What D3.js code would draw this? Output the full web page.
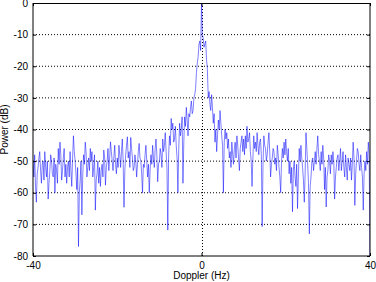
<!DOCTYPE html>
<html>
<head>
<meta charset="utf-8">
<script src="https://cdn.jsdelivr.net/npm/d3@7"></script>
<style>
  body { margin: 0; background: #fff; }
  svg { display: block; font-family: "Liberation Sans", Arial, sans-serif; }
</style>
</head>
<body>
<div id="chart"></div>
<script>
// doppler axis: samples every 0.2 Hz from -40 to 40
const freqStart = -40;
const freqStep = 0.2;
const power = [
  -50, -55, -48, -58, -63, -54, -52, -49, -47, -53, -57, -51, -50, -56, -47, -52, -55, -50, -62, -57,
  -53, -48, -50, -54, -55, -49, -60, -51, -53, -57, -46, -51, -44, -48, -56, -53, -49, -46, -55, -51,
  -57, -52, -50, -55, -47, -53, -58, -49, -42, -47, -50, -54, -59, -52, -77, -60, -56, -50, -67, -55,
  -48, -51, -44, -47, -55, -52, -49, -53, -46, -50, -47, -55, -52, -48, -65.5, -56, -54, -50, -57, -52,
  -58, -53, -51, -55, -46.5, -49, -57.6, -52, -50, -46, -53, -49, -43.9, -47, -50, -53, -48.6, -45, -51, -54,
  -49, -52, -45, -48, -52, -47, -43, -50, -64.6, -53, -48, -45, -42.3, -49, -47, -52, -42.5, -46, -49, -53,
  -52, -48, -50, -55, -51, -47, -44.4, -49, -50, -54, -60, -51, -52, -48, -45, -50, -55, -51, -60, -53,
  -48, -51, -45, -49, -52, -46, -43, -48, -56.5, -51, -50, -46, -48, -52, -43, -47, -45, -41, -47, -52,
  -71.8, -48, -42, -45, -36.5, -40, -38, -44, -43, -39, -45, -49, -60, -46, -38, -42, -40, -36, -57, -44,
  -36, -39, -33, -37, -42, -35, -36, -33, -31, -35, -34, -30, -29, -27, -22, -19, -17, -13, -12, -15,
  0, -10, -11, -14, -13, -12, -18, -21, -30, -28, -32, -34, -29, -33, -38, -35, -44, -40, -47, -42,
  -37, -40, -34, -38, -42, -45, -60, -44, -40, -43, -41, -46, -43, -49, -47, -52, -44, -48, -51, -46,
  -44, -49, -42, -45, -49, -53, -46, -44, -42, -47, -43, -48, -42, -46, -39, -44, -43, -41, -47, -50,
  -58, -49, -42, -46, -44, -47, -41, -45, -48, -44, -43, -48, -70.7, -51, -42, -45, -46, -50, -48, -44,
  -41, -47, -55, -51, -49, -46, -47, -51, -49, -53, -45, -48, -52, -55, -60, -50, -46, -49, -44, -48,
  -43, -47, -50, -46, -54, -50, -57, -52, -66, -53, -50, -55, -58, -51, -65, -55, -46, -50, -45, -49,
  -52, -56, -63, -54, -41, -46, -51, -57, -73, -58, -55, -50, -49, -53, -50, -47, -51, -46, -42, -48,
  -50, -53, -47, -51, -45, -49, -59, -52, -64.5, -55, -53, -48, -50, -54, -48, -51, -47, -50, -62, -55,
  -52, -49, -48, -53, -50, -46, -53, -50, -47, -52, -55, -48, -52, -56, -49, -51, -53, -49, -56, -51,
  -44, -49, -64, -54, -50, -46, -47, -51, -53, -48, -52, -55, -65.5, -54, -50, -53, -47, -51, -44, -48,
  -80
];
const xTicks = [-40, 0, 40];
const yTicks = [0, -10, -20, -30, -40, -50, -60, -70, -80];

const data = power.map((p, i) => ({ f: freqStart + i * freqStep, p: p }));

const margin = { top: 3, right: 6, bottom: 26, left: 33 };
const width = 376 - margin.left - margin.right;
const height = 282 - margin.top - margin.bottom;

const svg = d3.select("#chart")
  .append("svg")
  .attr("width", 376)
  .attr("height", 282);

const g = svg.append("g")
  .attr("transform", `translate(${margin.left},${margin.top})`);

const x = d3.scaleLinear().domain([-40, 40]).range([0, width]);
const y = d3.scaleLinear().domain([-80, 0]).range([height, 0]);

// dotted grid
g.selectAll(".hgrid")
  .data(yTicks.filter(t => t !== 0 && t !== -80))
  .enter().append("line")
  .attr("x1", 0).attr("x2", width)
  .attr("y1", d => y(d)).attr("y2", d => y(d))
  .attr("stroke", "#000")
  .attr("stroke-width", 1)
  .attr("stroke-dasharray", "1,2");

g.selectAll(".vgrid")
  .data(xTicks.filter(t => t !== -40 && t !== 40))
  .enter().append("line")
  .attr("x1", d => Math.round(x(d)) + 0.5).attr("x2", d => Math.round(x(d)) + 0.5)
  .attr("y1", 0).attr("y2", height)
  .attr("stroke", "#000")
  .attr("stroke-width", 1)
  .attr("stroke-dasharray", "1,2");

svg.append("clipPath").attr("id", "clip")
  .append("rect").attr("x", 0).attr("y", 0).attr("width", width).attr("height", height + 1);

const line = d3.line()
  .x(d => x(d.f))
  .y(d => y(d.p));

g.append("path")
  .datum(data)
  .attr("clip-path", "url(#clip)")
  .attr("fill", "none")
  .attr("stroke", "#0000ff")
  .attr("stroke-width", 0.5)
  .attr("d", line);

// axes, MATLAB style with inward ticks
const yAxis = d3.axisLeft(y).tickValues(yTicks).tickSize(-3).tickPadding(5)
  .tickFormat(d => String(d));
const xAxis = d3.axisBottom(x).tickValues(xTicks).tickSize(-3).tickPadding(6)
  .tickFormat(d => String(d));

g.append("g").attr("class", "y-axis").call(yAxis);
g.append("g").attr("class", "x-axis")
  .attr("transform", `translate(0,${height})`).call(xAxis);
g.append("g").attr("class", "y-axis-r")
  .attr("transform", `translate(${width},0)`)
  .call(d3.axisRight(y).tickValues(yTicks).tickSize(-3).tickFormat(""));
g.append("g").attr("class", "x-axis-t")
  .call(d3.axisTop(x).tickValues(xTicks).tickSize(-3).tickFormat(""));

g.selectAll(".domain").remove();
g.selectAll(".tick line").attr("stroke", "#000");
g.selectAll(".tick text").attr("font-size", 10).attr("fill", "#000")
  .attr("font-family", "Liberation Sans, Arial, sans-serif");

// box
g.append("line").attr("x1", 0).attr("x2", width).attr("y1", 0.5).attr("y2", 0.5)
  .attr("stroke", "#000");
g.append("line").attr("x1", 0).attr("x2", width).attr("y1", height).attr("y2", height)
  .attr("stroke", "#000").attr("stroke-width", 1);
g.append("line").attr("x1", 0).attr("x2", 0).attr("y1", 0).attr("y2", height)
  .attr("stroke", "#000");
g.append("line").attr("x1", width).attr("x2", width).attr("y1", 0).attr("y2", height)
  .attr("stroke", "#000");

svg.append("text")
  .attr("x", margin.left + width / 2)
  .attr("y", 279)
  .attr("text-anchor", "middle")
  .attr("font-size", 10)
  .text("Doppler (Hz)");

svg.append("text")
  .attr("transform", `translate(8,${margin.top + height / 2}) rotate(-90)`)
  .attr("text-anchor", "middle")
  .attr("font-size", 10)
  .text("Power (dB)");
</script>
</body>
</html>
